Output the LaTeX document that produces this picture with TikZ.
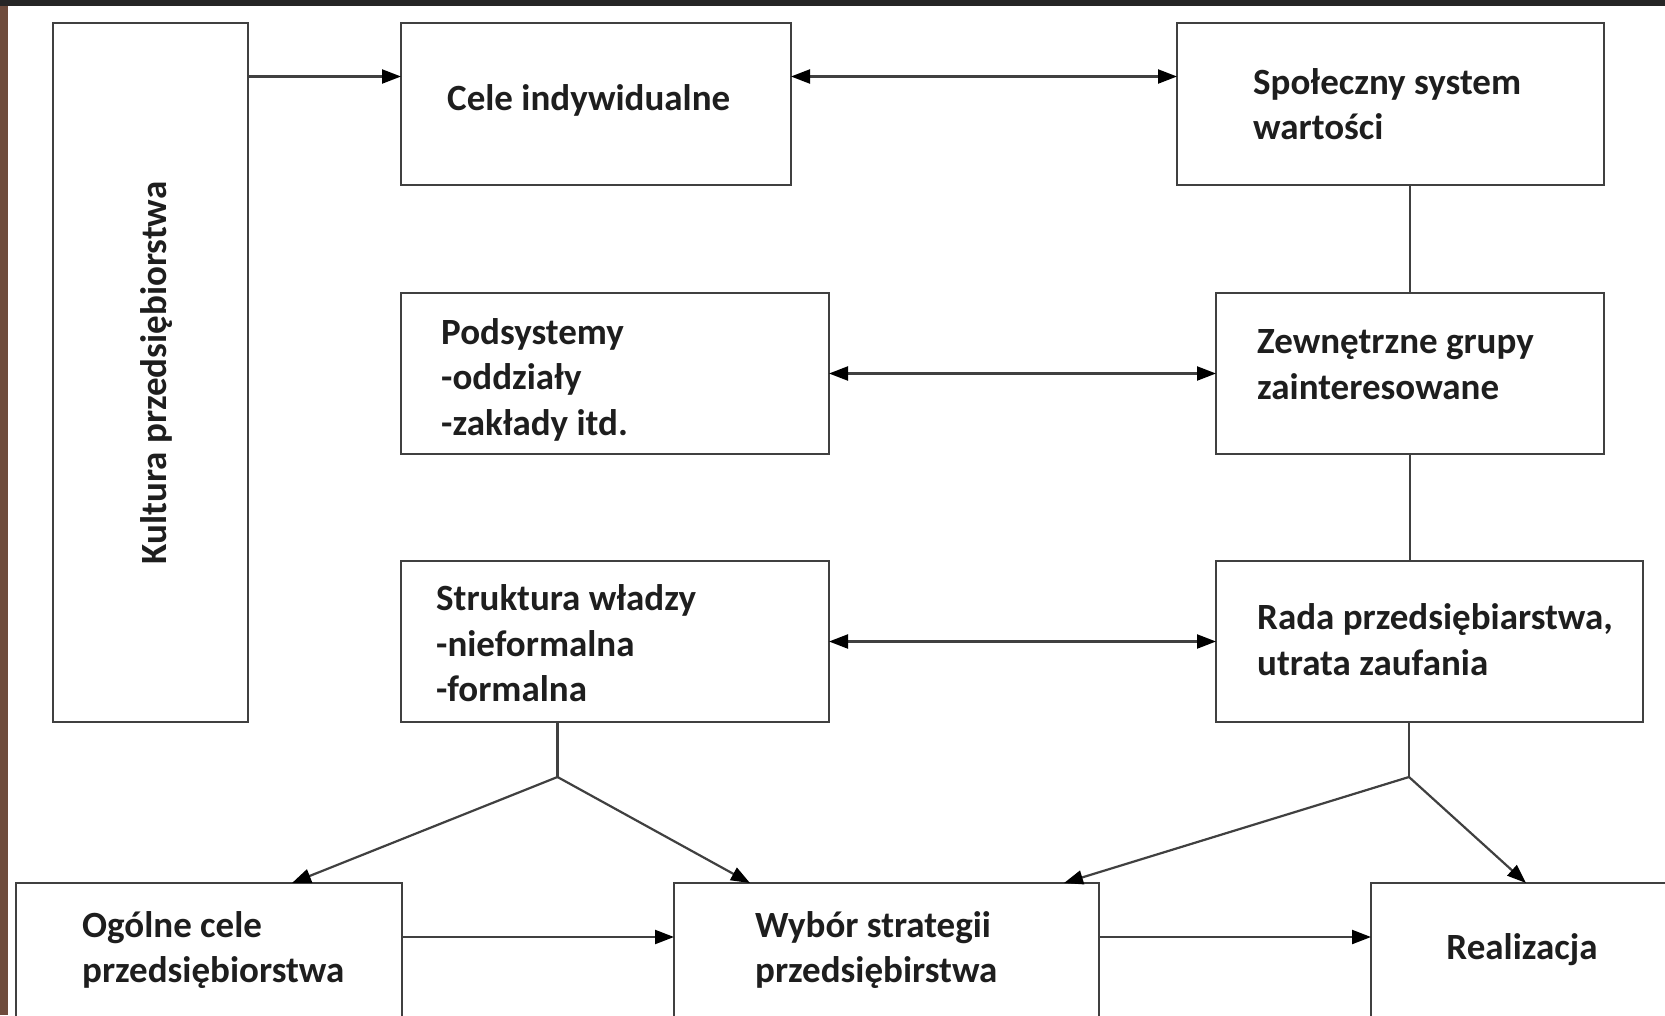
\documentclass[tikz,border=0pt]{standalone}
\usepackage{fontspec}
\setmainfont{Carlito}
\usetikzlibrary{arrows.meta,calc}
\definecolor{ln}{HTML}{404040}
\definecolor{tx}{HTML}{1E1E1E}
\definecolor{brownbar}{HTML}{6E4B3C}
\definecolor{darkbar}{HTML}{262626}
\tikzset{
 box/.style={draw=ln, line width=2.8pt, anchor=north west, inner sep=0pt, outer sep=0pt},
 txt/.style={anchor=west, inner sep=0pt, align=left, text=tx, font=\fontsize{37}{45.5}\selectfont\bfseries},
 con/.style={draw=ln, line width=2.2pt},
 tip/.style={Triangle[length=19pt,width=14pt,color=black,fill=black]},
 arr/.style={con, -{Triangle[length=19pt,width=14pt,color=black,fill=black]}},
 darr/.style={con, {Triangle[length=19pt,width=14pt,color=black,fill=black]}-{Triangle[length=19pt,width=14pt,color=black,fill=black]}},
}
\begin{document}
\begin{tikzpicture}[x=1pt,y=-1pt]
\useasboundingbox (0,0) rectangle (1665,1015);
\fill[white] (0,0) rectangle (1665,1015);
\clip (0,0) rectangle (1665,1015);
\fill[brownbar] (0,0) rectangle (8,1015);
\fill[darkbar] (0,0) rectangle (1665,6);

% boxes
\node[box, minimum width=195pt, minimum height=699pt] (kul) at (53,23) {};
\node[txt, anchor=center, rotate=90] (kulT) at (157,373) {Kultura przedsiębiorstwa};

\node[box, minimum width=390pt, minimum height=162pt] (cel) at (401,23) {};
\node[txt, yshift=4pt] (celT) at ([xshift=46pt]cel.west) {Cele indywidualne};

\node[box, minimum width=427pt, minimum height=162pt] (spo) at (1177,23) {};
\node[txt] (spoT) at ([xshift=76pt]spo.west) {Społeczny system\\wartości};

\node[box, minimum width=428pt, minimum height=161pt] (pod) at (401,293) {};
\node[txt, yshift=-6pt] (podT) at ([xshift=40pt]pod.west) {Podsystemy\\-oddziały\\-zakłady itd.};

\node[box, minimum width=388pt, minimum height=161pt] (zew) at (1216,293) {};
\node[txt, yshift=9pt] (zewT) at ([xshift=41pt]zew.west) {Zewnętrzne grupy\\zainteresowane};

\node[box, minimum width=428pt, minimum height=161pt] (str) at (401,561) {};
\node[txt, yshift=-2pt] (strT) at ([xshift=35pt]str.west) {Struktura władzy\\-nieformalna\\-formalna};

\node[box, minimum width=427pt, minimum height=161pt] (rad) at (1216,561) {};
\node[txt, yshift=2pt] (radT) at ([xshift=41pt]rad.west) {Rada przedsiębiarstwa,\\utrata zaufania};

\node[box, minimum width=386pt, minimum height=134pt] (ogo) at (16,883) {};
\node[txt] (ogoT) at ([xshift=66pt]ogo.west) {Ogólne cele\\przedsiębiorstwa};

\node[box, minimum width=425pt, minimum height=134pt] (wyb) at (674,883) {};
\node[txt] (wybT) at ([xshift=81pt]wyb.west) {Wybór strategii\\przedsiębirstwa};

\node[box, minimum width=302pt, minimum height=134pt, text=tx, font=\fontsize{37}{45.5}\selectfont\bfseries] (rea) at (1371,883) {Realizacja};

% connectors
\draw[arr] ([yshift=-53.5pt]kul.north east) -- ([yshift=-53.5pt]cel.north west);
\draw[darr] ([yshift=-53.5pt]cel.north east) -- ([yshift=-53.5pt]spo.north west);
\draw[con] (zew.north) -- (zew.north |- spo.south);
\draw[con] (zew.south) -- (zew.south |- rad.north);
\draw[darr] (pod.east) -- (zew.west);
\draw[darr] (str.east) -- (rad.west);

\coordinate (sj) at (557.5,777);
\draw[con] (sj |- str.south) -- (sj);
\draw[arr] (sj) -- ([xshift=276pt]ogo.north west);
\draw[arr] (sj) -- ([xshift=76pt]wyb.north west);

\coordinate (rj) at (1409,777);
\draw[con] (rj |- rad.south) -- (rj);
\draw[arr] (rj) -- ([xshift=390pt]wyb.north west);
\draw[arr] (rj) -- ([xshift=155pt]rea.north west);

\draw[arr] ([yshift=-54pt]ogo.north east) -- ([yshift=-54pt]wyb.north west);
\draw[arr] ([yshift=-54pt]wyb.north east) -- ([yshift=-54pt]rea.north west);
\end{tikzpicture}
\end{document}
